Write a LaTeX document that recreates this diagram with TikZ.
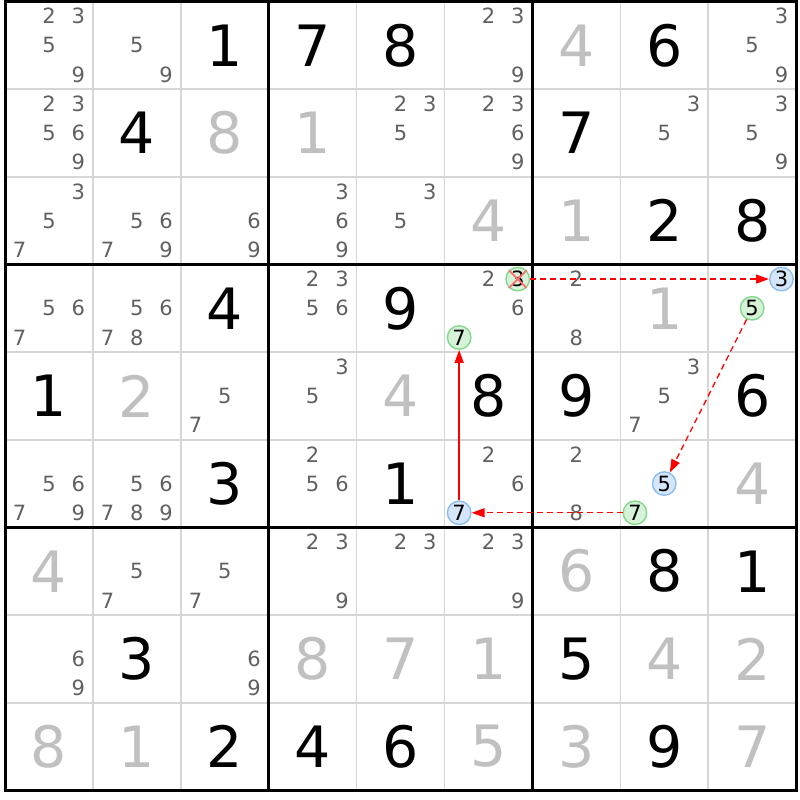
\documentclass[tikz,border=0pt]{standalone}
\usepackage{fontspec}
\setmainfont{DejaVu Sans}
\usetikzlibrary{arrows.meta}
\definecolor{candc}{RGB}{96,96,96}
\definecolor{solc}{RGB}{192,192,192}
\definecolor{thinc}{RGB}{214,214,214}
\definecolor{grnb}{RGB}{130,216,140}
\definecolor{grnf}{RGB}{214,242,216}
\definecolor{blub}{RGB}{140,190,240}
\definecolor{bluf}{RGB}{214,230,250}
\definecolor{xred}{RGB}{255,110,110}
\definecolor{linkred}{RGB}{255,0,0}
\newcommand\candpos[3]{({5+(#2-1)*87.9+(mod(#3-1,3)*2+1)*14.65},{1.5+(#1-1)*87.65+(div(#3-1,3)*2+1)*14.608})}
\newcommand\cellpos[2]{({5+(#2-0.5)*87.9},{1.5+(#1-0.5)*87.65})}
\newcommand\cand[3]{\node[candtxt] (k#1#2#3) at \candpos{#1}{#2}{#3} {#3};}
\newcommand\cands[3]{\foreach \dd in {#3} {\cand{#1}{#2}{\dd}}}
\newcommand\candg[3]{\node[candtxt,hlg] (k#1#2#3) at \candpos{#1}{#2}{#3} {#3};}
\newcommand\candb[3]{\node[candtxt,hlb] (k#1#2#3) at \candpos{#1}{#2}{#3} {#3};}
\newcommand\giv[3]{\node[giventxt] (v#1#2) at \cellpos{#1}{#2} {#3};}
\newcommand\sol[3]{\node[soltxt] (v#1#2) at \cellpos{#1}{#2} {#3};}
\begin{document}
\begin{tikzpicture}[x=1pt,y=-1pt,
  candtxt/.style={inner sep=0pt,text=candc,font=\fontsize{21}{24}\selectfont},
  giventxt/.style={inner sep=0pt,text=black,font=\fontsize{57}{60}\selectfont},
  soltxt/.style={inner sep=0pt,text=solc,font=\fontsize{57}{60}\selectfont},
  hlg/.style={circle,minimum size=23.5pt,draw=grnb,fill=grnf,line width=1.4pt,text=black},
  hlb/.style={circle,minimum size=23.5pt,draw=blub,fill=bluf,line width=1.4pt,text=black},
  thinline/.style={draw=thinc,line width=1.6pt},
  thickline/.style={draw=black,line width=3pt},
  chainlink/.style={draw=red,line width=1.6pt,-{Triangle[length=13pt,width=9pt]}},
  weaklink/.style={chainlink,line width=1.3pt,dash pattern=on 6pt off 4pt},
  xmark/.style={draw=xred,line width=1.8pt}]
\fill[white] (0,0) rectangle (800,800);
\useasboundingbox (0,0) rectangle (800,800);
% grid
\foreach \i in {1,2,4,5,7,8} {
  \draw[thinline] ({5+\i*87.9},1.5) -- ({5+\i*87.9},790.35);
  \draw[thinline] (5,{1.5+\i*87.65}) -- (796.1,{1.5+\i*87.65});
}
\foreach \i in {0,3,6,9} {
  \draw[thickline] ({5+\i*87.9},0) -- ({5+\i*87.9},791.85);
  \draw[thickline] (3.5,{1.5+\i*87.65}) -- (797.6,{1.5+\i*87.65});
}
% row 1
\cands{1}{1}{2,3,5,9} \cands{1}{2}{5,9} \giv{1}{3}{1} \giv{1}{4}{7} \giv{1}{5}{8}
\cands{1}{6}{2,3,9} \sol{1}{7}{4} \giv{1}{8}{6} \cands{1}{9}{3,5,9}
% row 2
\cands{2}{1}{2,3,5,6,9} \giv{2}{2}{4} \sol{2}{3}{8} \sol{2}{4}{1} \cands{2}{5}{2,3,5}
\cands{2}{6}{2,3,6,9} \giv{2}{7}{7} \cands{2}{8}{3,5} \cands{2}{9}{3,5,9}
% row 3
\cands{3}{1}{3,5,7} \cands{3}{2}{5,6,7,9} \cands{3}{3}{6,9} \cands{3}{4}{3,6,9}
\cands{3}{5}{3,5} \sol{3}{6}{4} \sol{3}{7}{1} \giv{3}{8}{2} \giv{3}{9}{8}
% row 4
\cands{4}{1}{5,6,7} \cands{4}{2}{5,6,7,8} \giv{4}{3}{4} \cands{4}{4}{2,3,5,6}
\giv{4}{5}{9} \cands{4}{6}{2,6} \candg{4}{6}{3} \candg{4}{6}{7} \cands{4}{7}{2,8}
\sol{4}{8}{1} \candb{4}{9}{3} \candg{4}{9}{5}
% row 5
\giv{5}{1}{1} \sol{5}{2}{2} \cands{5}{3}{5,7} \cands{5}{4}{3,5} \sol{5}{5}{4}
\giv{5}{6}{8} \giv{5}{7}{9} \cands{5}{8}{3,5,7} \giv{5}{9}{6}
% row 6
\cands{6}{1}{5,6,7,9} \cands{6}{2}{5,6,7,8,9} \giv{6}{3}{3} \cands{6}{4}{2,5,6}
\giv{6}{5}{1} \cands{6}{6}{2,6} \candb{6}{6}{7} \cands{6}{7}{2,8} \candb{6}{8}{5}
\candg{6}{8}{7} \sol{6}{9}{4}
% row 7
\sol{7}{1}{4} \cands{7}{2}{5,7} \cands{7}{3}{5,7} \cands{7}{4}{2,3,9} \cands{7}{5}{2,3}
\cands{7}{6}{2,3,9} \sol{7}{7}{6} \giv{7}{8}{8} \giv{7}{9}{1}
% row 8
\cands{8}{1}{6,9} \giv{8}{2}{3} \cands{8}{3}{6,9} \sol{8}{4}{8} \sol{8}{5}{7}
\sol{8}{6}{1} \giv{8}{7}{5} \sol{8}{8}{4} \sol{8}{9}{2}
% row 9
\sol{9}{1}{8} \sol{9}{2}{1} \giv{9}{3}{2} \giv{9}{4}{4} \giv{9}{5}{6} \sol{9}{6}{5}
\sol{9}{7}{3} \giv{9}{8}{9} \sol{9}{9}{7}
% elimination mark
\draw[xmark] (k463.north west) -- (k463.south east);
\draw[xmark] (k463.north east) -- (k463.south west);
% chain
\draw[chainlink] (k667) -- (k467);
\draw[weaklink] (k463) -- (k493);
\draw[weaklink] (k495) -- (k685);
\draw[weaklink] (k687) -- (k667);
\end{tikzpicture}
\end{document}
